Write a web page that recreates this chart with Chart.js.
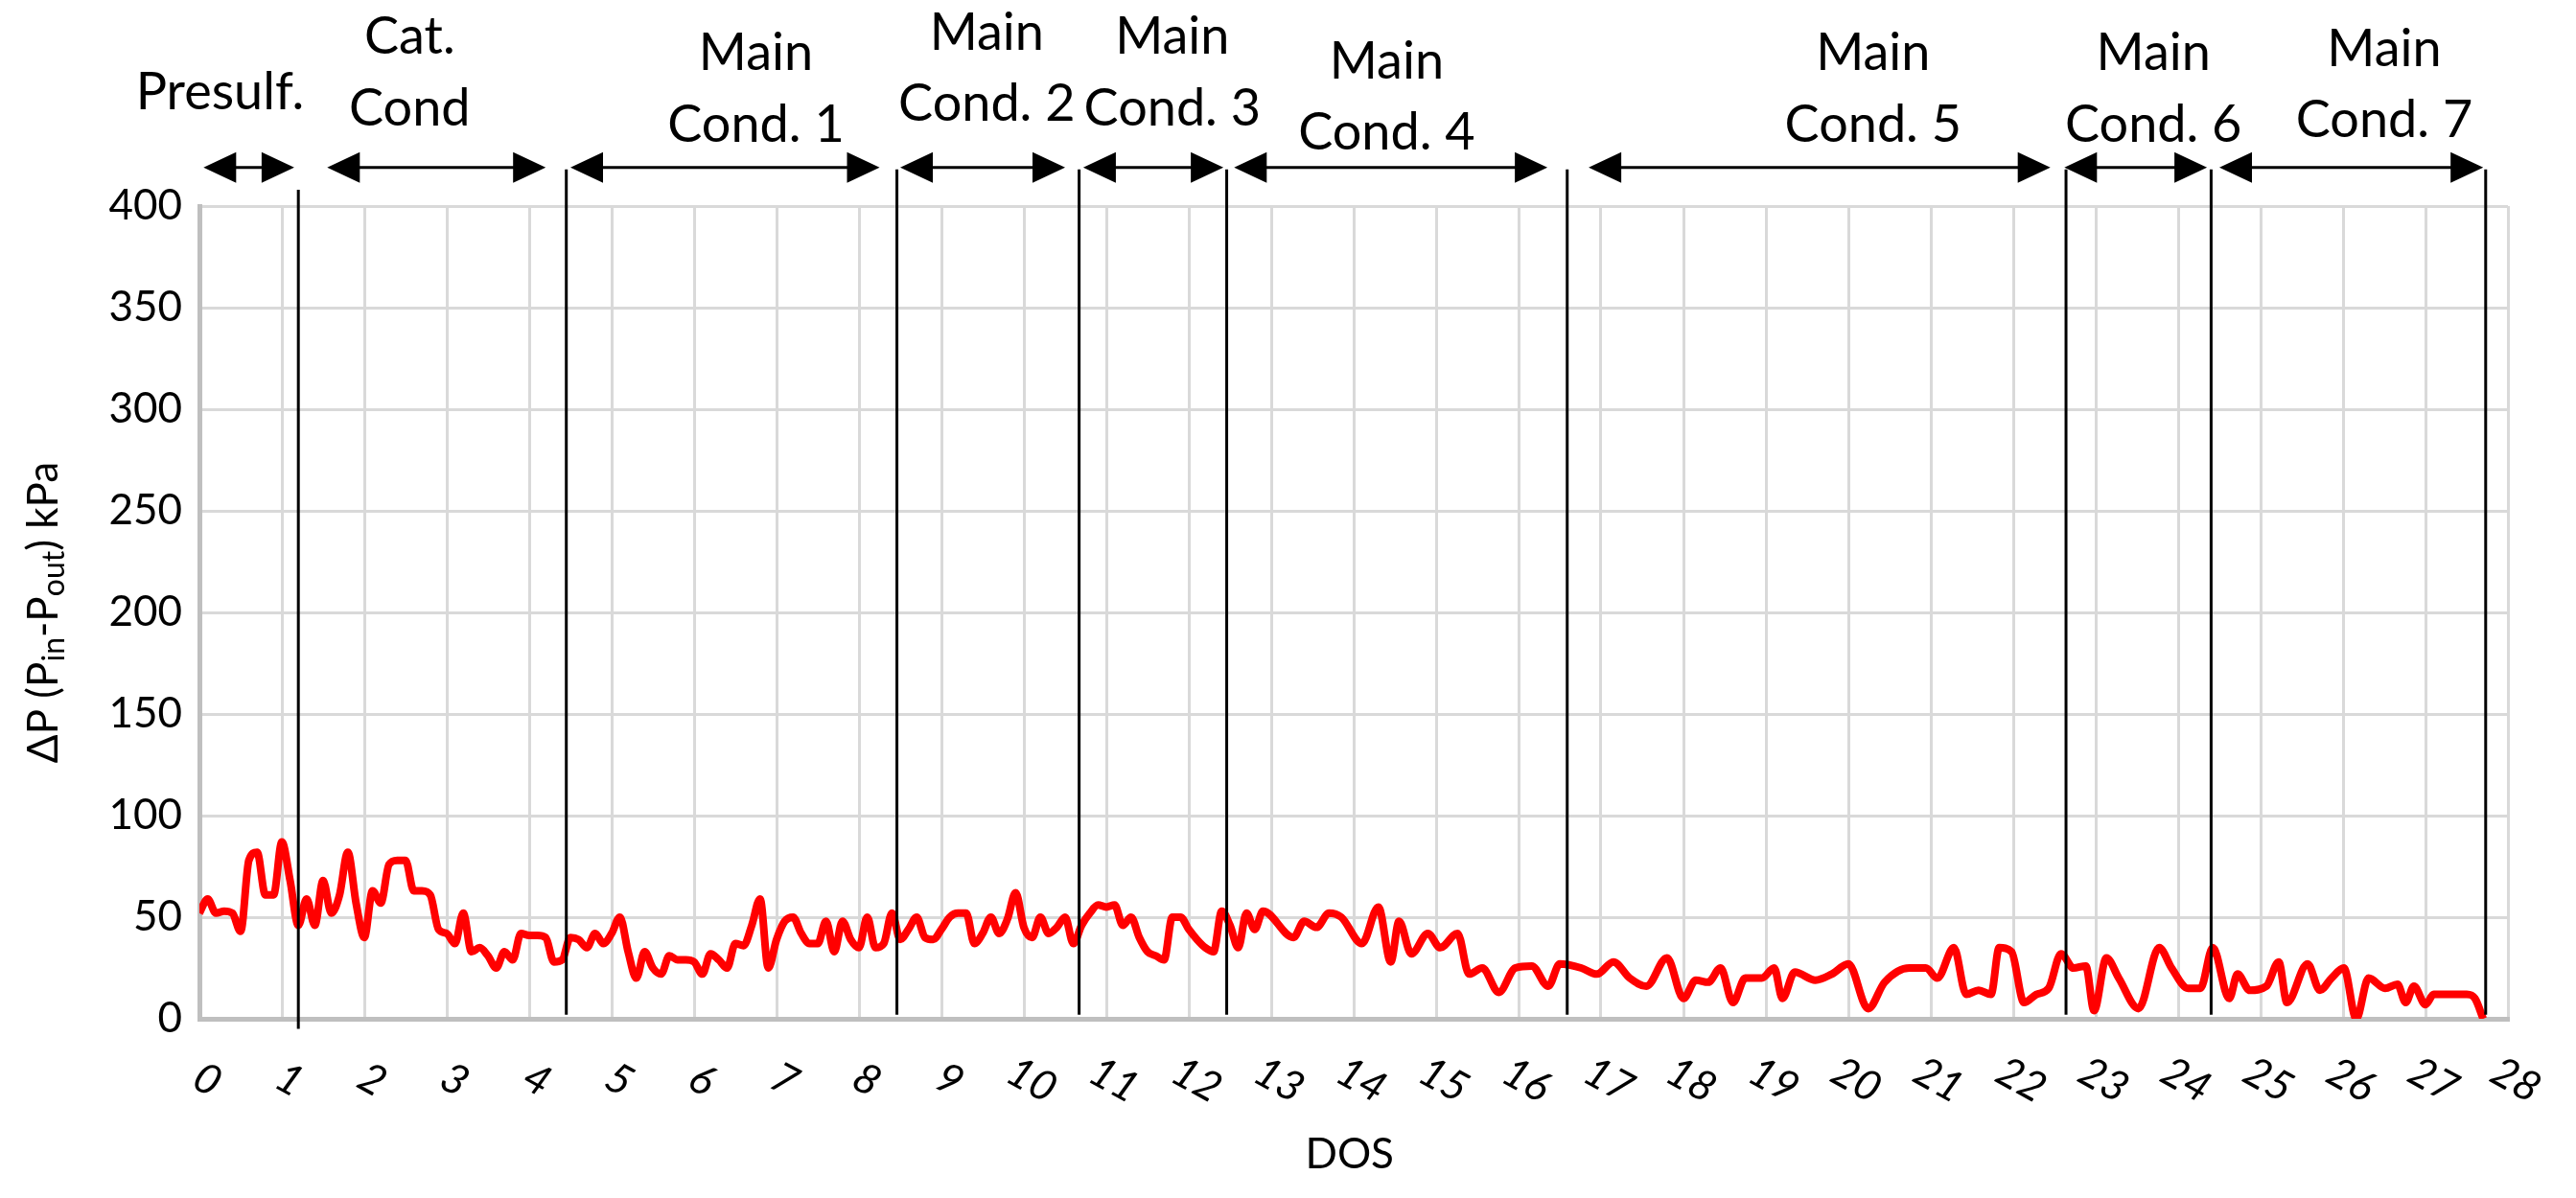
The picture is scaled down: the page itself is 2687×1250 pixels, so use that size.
<!DOCTYPE html>
<html><head><meta charset="utf-8">
<script src="https://cdn.jsdelivr.net/npm/chart.js@4"></script>
<style>html,body{margin:0;padding:0;background:#fff}#w{width:2687px;height:1250px}</style>
</head><body><div id="w"><canvas id="c"></canvas></div>
<script>
const dosA = [];
for (let i = 0; i <= 129; i++) dosA.push(+(i * 0.1).toFixed(1));
const dpA = [52,59,52,53,52,43,78,82,61,61,87,68,46,59,46,68,52,61,82,57,40,63,57,76,78,78,63,63,61,44,42,37,52,33,35,31,25,33,29,42,41,41,40,28,29,40,39,35,42,37,42,50,33,20,33,25,22,31,29,29,28,22,32,29,25,37,36,46,59,25,39,48,50,42,37,37,48,33,48,39,35,50,35,37,52,39,44,50,40,39,44,50,52,52,37,42,50,42,49,62,45,40,50,42,45,50,37,46,52,56,55,56,46,50,40,33,31,29,50,50,44,39,35,33,53,46,35,52,44,53];
const dosB = [13.27,13.4,13.55,13.7,13.85,14.1,14.3,14.45,14.55,14.7,14.9,15.05,15.26,15.4,15.56,15.76,15.96,16.16,16.36,16.5,16.76,16.95,17.15,17.35,17.55,17.8,18.0,18.15,18.3,18.45,18.6,18.75,18.95,19.1,19.2,19.35,19.6,19.8,20.0,20.24,20.44,20.74,20.94,21.08,21.28,21.43,21.58,21.73,21.83,21.98,22.13,22.28,22.43,22.58,22.73,22.88,22.98,23.13,23.28,23.52,23.77,23.92,24.12,24.27,24.42,24.62,24.72,24.87,25.07,25.22,25.32,25.57,25.72,25.86,26.01,26.16,26.31,26.51,26.66,26.76,26.86,27.0,27.1,27.5,27.6,27.7];
const dpB = [40,48,45,52,50,37,55,28,48,32,42,35,42,22,25,13,25,26,16,27,25,22,28,20,16,30,10,19,18,25,8,20,20,25,10,23,19,22,27,5,18,25,25,20,35,12,14,12,35,33,8,12,15,32,25,26,4,30,20,5,35,25,15,15,35,10,22,14,16,28,8,27,14,20,25,0,20,15,17,8,16,7,12,12,10,0];
const dos = dosA.concat(dosB);
const dp = dpA.concat(dpB);
const xTicks = Array.from({length:29},(_, i)=>i);
const yTicks = [0,50,100,150,200,250,300,350,400];
const boundaries = [1.2,4.45,8.46,10.67,12.46,16.59,22.64,24.4,27.73];
const phaseLabels = [["Presulf."],["Cat.","Cond"],["Main","Cond. 1"],["Main","Cond. 2"],["Main","Cond. 3"],["Main","Cond. 4"],["Main","Cond. 5"],["Main","Cond. 6"],["Main","Cond. 7"]];
const arrowFrom = [0.05,1.55,4.5,8.5,10.72,12.55,16.85,22.62,24.5];
const arrowTo   = [1.15,4.2,8.25,10.5,12.42,16.35,22.45,24.35,27.7];
const labelCenter = [0.25,2.55,6.75,9.55,11.8,14.4,20.3,23.7,26.5];
const labelLift = [0,8,0,10,8,-4,0,0,2];

const F = 'Lato, "Open Sans", sans-serif';
const deco = {
  id:'deco',
  afterDraw(ch){
    const ctx=ch.ctx, xs=ch.scales.x, ys=ch.scales.y, a=ch.chartArea;
    ctx.save();
    ctx.fillStyle='#000';
    ctx.font='44px '+F; ctx.textAlign='right'; ctx.textBaseline='middle';
    yTicks.forEach(v=>ctx.fillText(String(v), a.left-18, ys.getPixelForValue(v)));
    ctx.font='italic 44px '+F; ctx.textAlign='center';
    xTicks.forEach(v=>{ctx.save();ctx.translate(xs.getPixelForValue(v)+8,a.bottom+64);ctx.rotate(0.5);ctx.fillText(String(v),0,0);ctx.restore();});
    ctx.font='44px '+F; ctx.fillText('DOS', xs.getPixelForValue(13.95), a.bottom+142);
    ctx.save(); ctx.translate(46, ys.getPixelForValue(200)); ctx.rotate(-Math.PI/2);
    const parts=[['ΔP (P',0],['in',1],['-P',0],['out',1],[') kPa',0]];
    let tw=0; parts.forEach(p=>{ctx.font=(p[1]?'32px ':'44px ')+F; tw+=ctx.measureText(p[0]).width;});
    let x=-tw/2; ctx.textAlign='left';
    parts.forEach(p=>{ctx.font=(p[1]?'32px ':'44px ')+F; ctx.fillText(p[0],x,p[1]?11:0); x+=ctx.measureText(p[0]).width;});
    ctx.restore();
    ctx.strokeStyle='#000'; ctx.lineWidth=3;
    boundaries.forEach((b,i)=>{const px=xs.getPixelForValue(b);ctx.beginPath();ctx.moveTo(px,ys.getPixelForValue(i===0?408:418));ctx.lineTo(px,ys.getPixelForValue(i===0?-5:2));ctx.stroke();});
    const ay=ys.getPixelForValue(419);
    arrowFrom.forEach((f,i)=>{
      const x1=xs.getPixelForValue(f), x2=xs.getPixelForValue(arrowTo[i]);
      ctx.lineWidth=3; ctx.beginPath(); ctx.moveTo(x1+20,ay); ctx.lineTo(x2-20,ay); ctx.stroke();
      ctx.beginPath(); ctx.moveTo(x1,ay); ctx.lineTo(x1+34,ay-16); ctx.lineTo(x1+34,ay+16); ctx.closePath(); ctx.fill();
      ctx.beginPath(); ctx.moveTo(x2,ay); ctx.lineTo(x2-34,ay-16); ctx.lineTo(x2-34,ay+16); ctx.closePath(); ctx.fill();
    });
    ctx.font='54px '+F; ctx.textAlign='center'; ctx.textBaseline='middle';
    phaseLabels.forEach((l,i)=>{
      const cx=xs.getPixelForValue(labelCenter[i]), lf=labelLift[i];
      if(l.length===1) ctx.fillText(l[0],cx,ys.getPixelForValue(456));
      else {ctx.fillText(l[0],cx,ys.getPixelForValue(475+lf));ctx.fillText(l[1],cx,ys.getPixelForValue(440+lf));}
    });
    ctx.restore();
  }
};

new Chart(document.getElementById('c'),{
  type:'line',
  data:{datasets:[{data:dos.map((d,i)=>({x:d,y:dp[i]})),borderColor:'#ff0000',borderWidth:8,pointRadius:0,tension:0.3,cubicInterpolationMode:'monotone'}]},
  options:{
    responsive:true,maintainAspectRatio:false,animation:false,
    layout:{padding:{left:208,right:71,top:215,bottom:187}},
    plugins:{legend:{display:false},tooltip:{enabled:false}},
    scales:{
      x:{type:'linear',min:0,max:28,ticks:{display:false,stepSize:1},grid:{color:'#d9d9d9',lineWidth:3,drawTicks:false},border:{color:'#bfbfbf',width:5}},
      y:{min:0,max:400,ticks:{display:false,stepSize:50},grid:{color:'#d9d9d9',lineWidth:3,drawTicks:false},border:{color:'#bfbfbf',width:5}}
    }
  },
  plugins:[deco]
});
</script></body></html>
